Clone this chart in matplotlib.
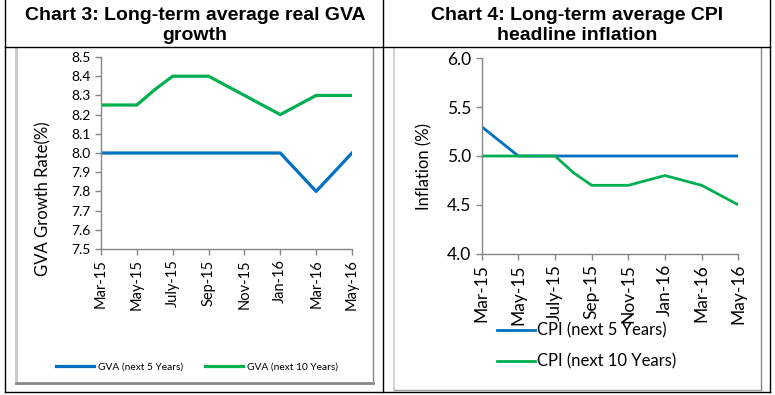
import matplotlib
matplotlib.use("Agg")
import matplotlib.pyplot as plt
from matplotlib.lines import Line2D

months = ['Mar-15', 'Apr-15', 'May-15', 'Jun-15', 'July-15', 'Aug-15', 'Sep-15', 'Oct-15',
          'Nov-15', 'Dec-15', 'Jan-16', 'Feb-16', 'Mar-16', 'Apr-16', 'May-16']
gva_5 = [8.0, 8.0, 8.0, 8.0, 8.0, 8.0, 8.0, 8.0, 8.0, 8.0, 8.0, 7.9, 7.8, 7.9, 8.0]
gva_10 = [8.25, 8.25, 8.25, 8.33, 8.40, 8.40, 8.40, 8.35, 8.30, 8.25, 8.20, 8.25, 8.30, 8.30, 8.30]
cpi_5 = [5.3, 5.15, 5.0, 5.0, 5.0, 5.0, 5.0, 5.0, 5.0, 5.0, 5.0, 5.0, 5.0, 5.0, 5.0]
cpi_10 = [5.0, 5.0, 5.0, 5.0, 5.0, 4.83, 4.7, 4.7, 4.7, 4.75, 4.8, 4.75, 4.7, 4.6, 4.5]

W, H = 775, 395
BLUE = '#0070C0'
GREEN = '#00B050'
AXCOL = '#868686'
FONT = 'Lato'

fig = plt.figure(figsize=(W / 100, H / 100), dpi=100)


def fx(x):
    return x / W


def fy(y):
    return 1 - y / H


def hline(y, x0, x1, color='black', lw=1.0):
    fig.add_artist(Line2D([fx(x0), fx(x1)], [fy(y), fy(y)], color=color, lw=lw,
                          transform=fig.transFigure))


def vline(x, y0, y1, color='black', lw=1.0):
    fig.add_artist(Line2D([fx(x), fx(x)], [fy(y0), fy(y1)], color=color, lw=lw,
                          transform=fig.transFigure))


def axes_at(x0, y0, x1, y1):
    return fig.add_axes([fx(x0), fy(y1), fx(x1) - fx(x0), fy(y0) - fy(y1)])


def style(ax, fs_y, fs_x):
    for s in ['top', 'right']:
        ax.spines[s].set_visible(False)
    for s in ['left', 'bottom']:
        ax.spines[s].set_color(AXCOL)
        ax.spines[s].set_linewidth(1.0)
    ax.tick_params(axis='both', colors=AXCOL, length=4, width=1.0, direction='out')
    ax.set_xticks(range(0, len(months), 2))
    ax.set_xticklabels(months[::2], rotation=90, fontsize=fs_x, family=FONT, color='black')
    for lab in ax.get_yticklabels():
        lab.set_fontsize(fs_y)
        lab.set_family(FONT)
        lab.set_color('black')
    ax.set_xlim(0, len(months) - 1)


# chart 3: GVA
ax1 = axes_at(101, 57, 352, 249)
x = range(len(months))
ax1.plot(x, gva_5, color=BLUE, lw=2.3, label='GVA (next 5 Years)')
ax1.plot(x, gva_10, color=GREEN, lw=2.3, label='GVA (next 10 Years)')
ax1.set_ylim(7.5, 8.5)
ax1.set_yticks([7.5 + 0.1 * i for i in range(11)])
ax1.set_yticklabels([f'{7.5 + 0.1 * i:.1f}' for i in range(11)])
style(ax1, 10, 10.5)
fig.text(fx(43), fy(199), 'GVA Growth Rate(%)', rotation=90, ha='center', va='center',
         fontsize=12, family=FONT)
ax1.legend(loc='center', bbox_to_anchor=(fx(197), fy(367)), bbox_transform=fig.transFigure,
           ncol=2, frameon=False, prop={'family': FONT, 'size': 7.3},
           handlelength=3.8, handletextpad=0.4, columnspacing=2.1)

# chart 4: CPI
ax2 = axes_at(481.7, 58.3, 738.3, 253.7)
ax2.plot(x, cpi_5, color=BLUE, lw=2.0, label='CPI (next 5 Years)')
ax2.plot(x, cpi_10, color=GREEN, lw=2.0, label='CPI (next 10 Years)')
ax2.set_ylim(4.0, 6.0)
ax2.set_yticks([4.0, 4.5, 5.0, 5.5, 6.0])
ax2.set_yticklabels(['4.0', '4.5', '5.0', '5.5', '6.0'])
style(ax2, 12.5, 12.5)
fig.text(fx(424), fy(167), 'Inflation (%)', rotation=90, ha='center', va='center',
         fontsize=12, family=FONT)
ax2.legend(loc='center left', bbox_to_anchor=(fx(482), fy(346)), bbox_transform=fig.transFigure,
           ncol=1, frameon=False, prop={'family': FONT, 'size': 12},
           handlelength=2.3, handletextpad=0.1, labelspacing=0.9)

# titles
tkw = dict(ha='center', va='center', fontsize=14, fontweight='bold', family='Liberation Sans')
fig.text(fx(195), fy(15), 'Chart 3: Long-term average real GVA', **tkw)
fig.text(fx(195), fy(35), 'growth', **tkw)
fig.text(fx(577), fy(15), 'Chart 4: Long-term average CPI', **tkw)
fig.text(fx(577), fy(35), 'headline inflation', **tkw)

# chart frames
vline(16, 48, 383, color='#C8C8C8', lw=2)
vline(373, 48, 383, color='#888888', lw=1)
hline(383, 16, 373, color='#888888', lw=2)
vline(394, 48, 390, color='#C8C8C8', lw=1.2)
vline(761, 48, 390, color='#888888', lw=1)
hline(390, 394, 761, color='#A0A0A0', lw=1)

# table lines
hline(47, 5, 770)
hline(392, 5, 770)
vline(5, 0, 392)
vline(383, 0, 392)
vline(770, 0, 392)

fig.savefig('out.png', dpi=100)
